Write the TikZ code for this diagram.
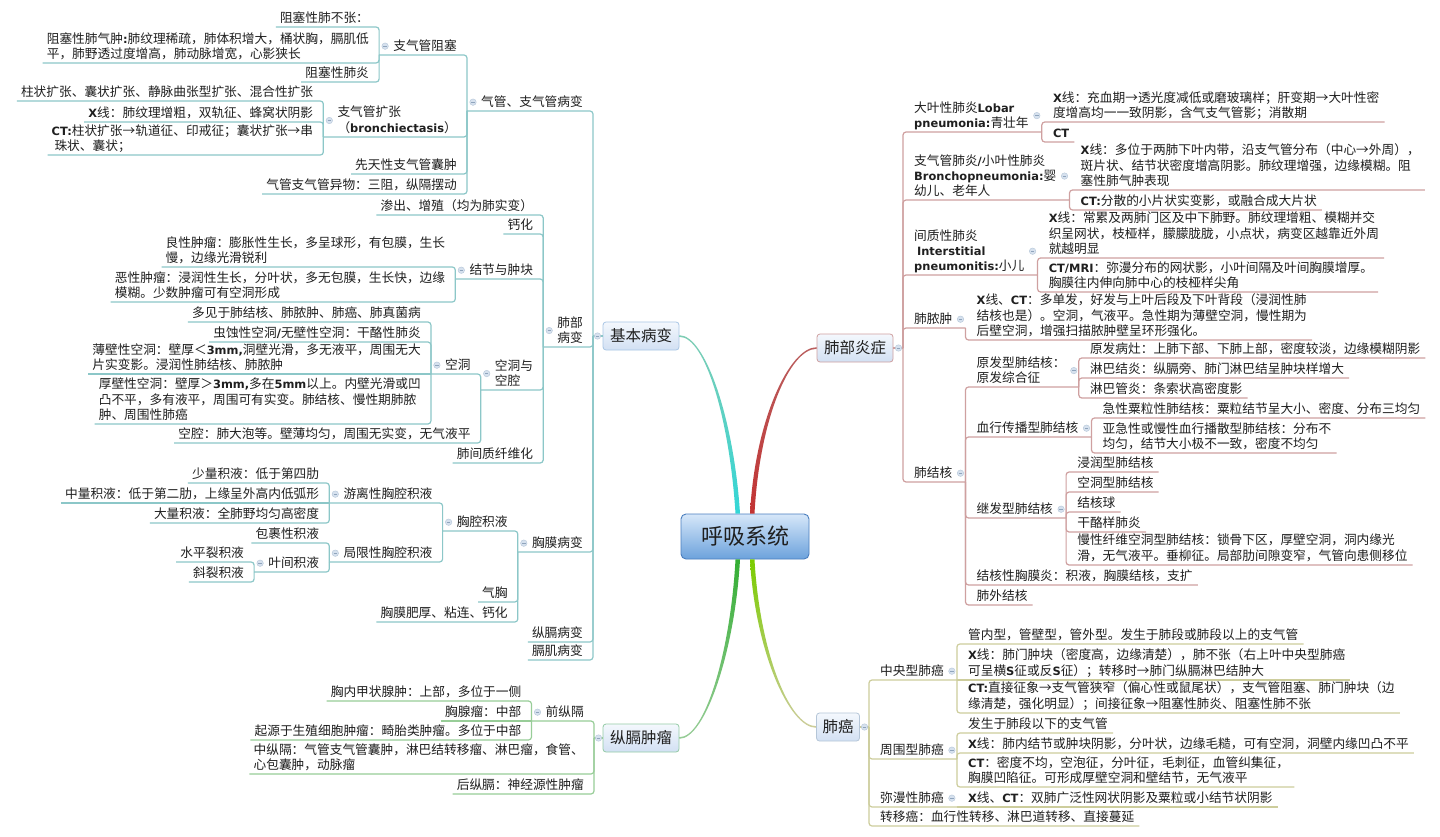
\documentclass[tikz,border=0pt]{standalone}
\usepackage{fontspec}
\newfontfamily\cjk{Noto Sans CJK SC}
\newfontfamily\latb[Scale=0.9]{DejaVu Sans}
\newcommand\Bf[1]{{\latb\bfseries #1}}
\newcommand\leafL[1]{\begin{tabular}{@{\hspace{4pt}}l@{\hspace{10pt}}}#1\end{tabular}}
\newcommand\parL[1]{\begin{tabular}{@{\hspace{14pt}}l@{\hspace{10pt}}}#1\end{tabular}}
\newcommand\leafR[1]{\begin{tabular}{@{\hspace{11pt}}l@{\hspace{5pt}}}#1\end{tabular}}
\newcommand\parR[1]{\begin{tabular}{@{\hspace{11pt}}l@{\hspace{13pt}}}#1\end{tabular}}
\newcommand\cnL[3]{\draw[#3] (#1.south west) -- (#1.south east) -- (#2.south west);}
\newcommand\cnR[3]{\draw[#3] (#1.south east) -- (#1.south west) -- (#2.south east);}
\newcommand\cnLr[3]{\draw[#3] (#1.south west) -- (#1.south east) -- (#1.south east |- #2);}
\newcommand\cnRr[3]{\draw[#3] (#1.south east) -- (#1.south west) -- (#1.south west |- #2);}
\newcommand\cnS[2]{\draw[#2] (#1.south west) -- (#1.south east);}
\newcommand\kL[1]{\node[knob] (#1k) at ([xshift=6pt,yshift=1pt]#1.west) {};}
\newcommand\kR[1]{\node[knob] (#1k) at ([xshift=-5pt,yshift=1pt]#1.east) {};}
\definecolor{cT}{HTML}{8CC7C8}
\definecolor{cR}{HTML}{CFA0A0}
\definecolor{cG}{HTML}{98CD98}
\definecolor{cY}{HTML}{CDCD9C}
\definecolor{knobF}{HTML}{D6E1EE}
\definecolor{knobD}{HTML}{B5C6D8}
\definecolor{knobM}{HTML}{8FA4BC}
\definecolor{topT}{HTML}{F4F8FD}
\definecolor{topB}{HTML}{D2E0F3}
\definecolor{cenT}{HTML}{D6E7F9}
\definecolor{cenB}{HTML}{6CA2DC}
\definecolor{cenD}{HTML}{4A7EBE}
\tikzset{
  every node/.style={font=\cjk\fontsize{12.7}{15}\selectfont, inner sep=0pt, text=black!88},
  ltx/.style={anchor=south east},
  rtx/.style={anchor=south west},
  lnT/.style={draw=cT, line width=1.2pt, rounded corners=3pt},
  lnR/.style={draw=cR, line width=1.2pt, rounded corners=3pt},
  lnG/.style={draw=cG, line width=1.2pt, rounded corners=3pt},
  lnY/.style={draw=cY, line width=1.2pt, rounded corners=3pt},
  knob/.style={circle, draw=knobD, fill=knobF, line width=0.4pt, minimum size=6.5pt, inner sep=0pt,
    path picture={\draw[knobM, line width=0.7pt] ([xshift=-1.7pt]path picture bounding box.center) -- ([xshift=1.7pt]path picture bounding box.center);}},
  topic/.style={rounded corners=3pt, top color=topT, bottom color=topB, line width=0.8pt,
    minimum height=28pt, inner xsep=6pt, font=\cjk\fontsize{15.5}{18}\selectfont},
  central/.style={rounded corners=5pt, top color=cenT, bottom color=cenB, draw=cenD, line width=0.9pt,
    minimum width=128pt, minimum height=45pt, font=\cjk\fontsize{22}{26}\selectfont}
}
\begin{document}
\begin{tikzpicture}[x=1pt,y=-1pt]
\fill[white] (0,0) rectangle (1440,837);
\useasboundingbox (0,0) rectangle (1440,837);

% ---------- central and main topics ----------
\node[central] (C) at (745,536.5) {呼吸系统};
\node[topic, draw=cT!80!blue!60, minimum width=76pt] (B1) at (641,336) {基本病变};
\node[topic, draw=cR, minimum width=76pt] (B2) at (855,348) {肺部炎症};
\node[topic, draw=cG!70!cT, minimum width=76pt] (B3) at (641,738) {纵膈肿瘤};
\node[topic, draw=knobD, minimum width=42pt] (B4) at (838,727) {肺癌};

\shade[top color=cT!90!green, bottom color=cyan!60!teal!80] ([yshift=0.8pt]B1.east) .. controls +(26,0) and +(-6,-94) .. ([xshift=-5pt]C.north) -- ([xshift=-9.5pt]C.north) .. controls +(-6,-94) and +(26,0) .. ([yshift=-0.8pt]B1.east) -- cycle;
\shade[top color=red!40!gray!90, bottom color=red!70!black!80] ([yshift=0.8pt]B2.west) .. controls +(-27,0) and +(5,-94) .. ([xshift=5pt]C.north) -- ([xshift=9.5pt]C.north) .. controls +(5,-94) and +(-27,0) .. ([yshift=-0.8pt]B2.west) -- cycle;
\shade[top color=green!60!black!80, bottom color=cG] ([yshift=-0.8pt]B3.east) .. controls +(26,0) and +(-5,91) .. ([xshift=-5pt]C.south) -- ([xshift=-9.5pt]C.south) .. controls +(-5,91) and +(26,0) .. ([yshift=0.8pt]B3.east) -- cycle;
\shade[top color=yellow!60!green!80!black, bottom color=cY] ([yshift=-0.8pt]B4.west) .. controls +(-27,0) and +(5,91) .. ([xshift=5pt]C.south) -- ([xshift=9.5pt]C.south) .. controls +(5,91) and +(-27,0) .. ([yshift=0.8pt]B4.west) -- cycle;

% ---------- 基本病变 (left) ----------
\coordinate (jB1) at (593,336);
\node[ltx] (a1) at (593,111) {\parL{气管、支气管病变}};
\node[ltx] (a2) at (593,347) {\parL{肺部\\病变}};
\node[ltx] (a3) at (593,552) {\parL{胸膜病变}};
\node[ltx] (a4) at (593,642) {\leafL{纵膈病变}};
\node[ltx] (a5) at (593,660) {\leafL{膈肌病变}};

\node[ltx] (b1) at (a1.south west |- 0,55) {\parL{支气管阻塞}};
\node[ltx] (b2) at (a1.south west |- 0,137) {\parL{支气管扩张\\（\Bf{bronchiectasis}）}};
\node[ltx] (b3) at (a1.south west |- 0,174) {\leafL{先天性支气管囊肿}};
\node[ltx] (b4) at (a1.south west |- 0,194) {\leafL{气管支气管异物：三阻，纵隔摆动}};

\node[ltx] (c1) at (b1.south west |- 0,27) {\leafL{阻塞性肺不张：}};
\node[ltx] (c2) at (b1.south west |- 0,63) {\leafL{阻塞性肺气肿\Bf{:}肺纹理稀疏，肺体积增大，桶状胸，膈肌低\\平，肺野透过度增高，肺动脉增宽，心影狭长}};
\node[ltx] (c3) at (b1.south west |- 0,82) {\leafL{阻塞性肺炎}};
\node[ltx] (c4) at (b2.south west |- 0,101) {\leafL{柱状扩张、囊状扩张、静脉曲张型扩张、混合性扩张}};
\node[ltx] (c5) at (b2.south west |- 0,122) {\leafL{\Bf{X}线：肺纹理增粗，双轨征、蜂窝状阴影}};
\node[ltx] (c6) at (b2.south west |- 0,155) {\leafL{\Bf{CT:}柱状扩张→轨道征、印戒征；囊状扩张→串\\\ 珠状、囊状；}};

\node[ltx] (d1) at (a2.south west |- 0,215) {\leafL{渗出、增殖（均为肺实变）}};
\node[ltx] (d2) at (a2.south west |- 0,234) {\leafL{钙化}};
\node[ltx] (d3) at (a2.south west |- 0,279) {\parL{结节与肿块}};
\node[ltx] (d4) at (a2.south west |- 0,390) {\parL{空洞与\\空腔}};
\node[ltx] (d5) at (a2.south west |- 0,463) {\leafL{肺间质纤维化}};

\node[ltx] (e1) at (d3.south west |- 0,267) {\leafL{良性肿瘤：膨胀性生长，多呈球形，有包膜，生长\\慢，边缘光滑锐利}};
\node[ltx] (e2) at (d3.south west |- 0,302) {\leafL{恶性肿瘤：浸润性生长，分叶状，多无包膜，生长快，边缘\\模糊。少数肿瘤可有空洞形成}};
\node[ltx] (e3) at (d4.south west |- 0,374) {\parL{空洞}};
\node[ltx] (e4) at (d4.south west |- 0,443) {\leafL{空腔：肺大泡等。壁薄均匀，周围无实变，无气液平}};

\node[ltx] (f1) at (e3.south west |- 0,322) {\leafL{多见于肺结核、肺脓肿、肺癌、肺真菌病}};
\node[ltx] (f2) at (e3.south west |- 0,342) {\leafL{虫蚀性空洞\Bf{/}无壁性空洞：干酪性肺炎}};
\node[ltx] (f3) at (e3.south west |- 0,374) {\leafL{薄壁性空洞：壁厚＜\Bf{3mm,}洞壁光滑，多无液平，周围无大\\片实变影。浸润性肺结核、肺脓肿}};
\node[ltx] (f4) at (e3.south west |- 0,424) {\leafL{厚壁性空洞：壁厚＞\Bf{3mm,}多在\Bf{5mm}以上。内壁光滑或凹\\凸不平，多有液平，周围可有实变。肺结核、慢性期肺脓\\肿、周围性肺癌}};

\node[ltx] (g1) at (a3.south west |- 0,531) {\parL{胸腔积液}};
\node[ltx] (g2) at (a3.south west |- 0,602) {\leafL{气胸}};
\node[ltx] (g3) at (a3.south west |- 0,622) {\leafL{胸膜肥厚、粘连、钙化}};
\node[ltx] (h1) at (g1.south west |- 0,503) {\parL{游离性胸腔积液}};
\node[ltx] (h2) at (g1.south west |- 0,562) {\parL{局限性胸腔积液}};
\node[ltx] (i1) at (h1.south west |- 0,483) {\leafL{少量积液：低于第四肋}};
\node[ltx] (i2) at (h1.south west |- 0,503) {\leafL{中量积液：低于第二肋，上缘呈外高内低弧形}};
\node[ltx] (i3) at (h1.south west |- 0,523) {\leafL{大量积液：全肺野均匀高密度}};
\node[ltx] (i4) at (h2.south west |- 0,543) {\leafL{包裹性积液}};
\node[ltx] (i5) at (h2.south west |- 0,572) {\parL{叶间积液}};
\node[ltx] (j1) at (i5.south west |- 0,562) {\leafL{水平裂积液}};
\node[ltx] (j2) at (i5.south west |- 0,582) {\leafL{斜裂积液}};

\foreach \n in {a1,a2,a3,a4,a5} {\cnLr{\n}{jB1}{lnT}}
\draw[lnT] (jB1) -- (B1.west);
\foreach \n in {b1,b2,b3,b4} {\cnL{\n}{a1}{lnT}}
\foreach \n in {c1,c2,c3} {\cnL{\n}{b1}{lnT}}
\foreach \n in {c4,c5,c6} {\cnL{\n}{b2}{lnT}}
\foreach \n in {d1,d2,d3,d4,d5} {\cnL{\n}{a2}{lnT}}
\foreach \n in {e1,e2} {\cnL{\n}{d3}{lnT}}
\foreach \n in {e3,e4} {\cnL{\n}{d4}{lnT}}
\foreach \n in {f1,f2,f4} {\cnL{\n}{e3}{lnT}}
\cnS{f3}{lnT}
\foreach \n in {g1,g2,g3} {\cnL{\n}{a3}{lnT}}
\foreach \n in {h1,h2} {\cnL{\n}{g1}{lnT}}
\foreach \n in {i1,i3} {\cnL{\n}{h1}{lnT}}
\cnS{i2}{lnT}
\foreach \n in {i4,i5} {\cnL{\n}{h2}{lnT}}
\foreach \n in {j1,j2} {\cnL{\n}{i5}{lnT}}

% ---------- 纵膈肿瘤 (left) ----------
\coordinate (jB3) at (594,738);
\node[ltx] (k1) at (594,721) {\parL{前纵隔}};
\node[ltx] (k2) at (594,774) {\leafL{中纵隔：气管支气管囊肿，淋巴结转移瘤、淋巴瘤，食管、\\心包囊肿，动脉瘤}};
\node[ltx] (k3) at (594,794) {\leafL{后纵膈：神经源性肿瘤}};
\node[ltx] (l1) at (k1.south west |- 0,701) {\leafL{胸内甲状腺肿：上部，多位于一侧}};
\node[ltx] (l2) at (k1.south west |- 0,721) {\leafL{胸腺瘤：中部}};
\node[ltx] (l3) at (k1.south west |- 0,740) {\leafL{起源于生殖细胞肿瘤：畸胎类肿瘤。多位于中部}};
\foreach \n in {k1,k2,k3} {\cnLr{\n}{jB3}{lnG}}
\draw[lnG] (jB3) -- (B3.west);
\foreach \n in {l1,l3} {\cnL{\n}{k1}{lnG}}
\cnS{l2}{lnG}

% ---------- 肺部炎症 (right) ----------
\coordinate (jB2) at (903,348);
\node[rtx] (m1) at (903,132) {\parR{大叶性肺炎\Bf{Lobar}\\\Bf{pneumonia:}青壮年}};
\node[rtx] (m2) at (903,200) {\parR{支气管肺炎\Bf{/}小叶性肺炎\\\Bf{Bronchopneumonia:}婴\\幼儿、老年人}};
\node[rtx] (m3) at (903,275) {\parR{间质性肺炎\\\ \Bf{Interstitial}\\\Bf{pneumonitis:}小儿}};
\node[rtx] (m4) at (903,328) {\parR{肺脓肿}};
\node[rtx] (m5) at (903,482) {\parR{肺结核}};

\node[rtx] (n1) at (m1.south east |- 0,122) {\leafR{\Bf{X}线：充血期→透光度减低或磨玻璃样；肝变期→大叶性密\\度增高均一一致阴影，含气支气管影；消散期}};
\node[rtx] (n2) at (m1.south east |- 0,142) {\leafR{\Bf{CT}}};
\node[rtx] (n3) at (m2.south east |- 0,190) {\leafR{\Bf{X}线：多位于两肺下叶内带，沿支气管分布（中心→外周），\\斑片状、结节状密度增高阴影。肺纹理增强，边缘模糊。阻\\塞性肺气肿表现}};
\node[rtx] (n4) at (m2.south east |- 0,210) {\leafR{\Bf{CT:}分散的小片状实变影，或融合成大片状}};
\node[rtx] (n5) at (m3.south east |- 0,258) {\leafR{\Bf{X}线：常累及两肺门区及中下肺野。肺纹理增粗、模糊并交\\织呈网状，枝桠样，朦朦胧胧，小点状，病变区越靠近外周\\就越明显}};
\node[rtx] (n6) at (m3.south east |- 0,292) {\leafR{\Bf{CT/MRI}：弥漫分布的网状影，小叶间隔及叶间胸膜增厚。\\胸膜往内伸向肺中心的枝桠样尖角}};
\node[rtx] (n7) at (m4.south east |- 0,340) {\leafR{\Bf{X}线、\Bf{CT}：多单发，好发与上叶后段及下叶背段（浸润性肺\\结核也是）。空洞，气液平。急性期为薄壁空洞，慢性期为\\后壁空洞，增强扫描脓肿壁呈环形强化。}};

\node[rtx] (o1) at (m5.south east |- 0,387) {\parR{原发型肺结核：\\原发综合征}};
\node[rtx] (o2) at (m5.south east |- 0,437) {\parR{血行传播型肺结核}};
\node[rtx] (o3) at (m5.south east |- 0,518) {\parR{继发型肺结核}};
\node[rtx] (o4) at (m5.south east |- 0,585) {\leafR{结核性胸膜炎：积液，胸膜结核，支扩}};
\node[rtx] (o5) at (m5.south east |- 0,605) {\leafR{肺外结核}};
\node[rtx] (p1) at (o1.south east |- 0,358) {\leafR{原发病灶：上肺下部、下肺上部，密度较淡，边缘模糊阴影}};
\node[rtx] (p2) at (o1.south east |- 0,378) {\leafR{淋巴结炎：纵膈旁、肺门淋巴结呈肿块样增大}};
\node[rtx] (p3) at (o1.south east |- 0,398) {\leafR{淋巴管炎：条索状高密度影}};
\node[rtx] (p4) at (o2.south east |- 0,418) {\leafR{急性粟粒性肺结核：粟粒结节呈大小、密度、分布三均匀}};
\node[rtx] (p5) at (o2.south east |- 0,453) {\leafR{亚急性或慢性血行播散型肺结核：分布不\\均匀，结节大小极不一致，密度不均匀}};
\node[rtx] (p6) at (o3.south east |- 0,472) {\leafR{浸润型肺结核}};
\node[rtx] (p7) at (o3.south east |- 0,492) {\leafR{空洞型肺结核}};
\node[rtx] (p8) at (o3.south east |- 0,512) {\leafR{结核球}};
\node[rtx] (p9) at (o3.south east |- 0,532) {\leafR{干酪样肺炎}};
\node[rtx] (p10) at (o3.south east |- 0,565) {\leafR{慢性纤维空洞型肺结核：锁骨下区，厚壁空洞，洞内缘光\\滑，无气液平。垂柳征。局部肋间隙变窄，气管向患侧移位}};

\foreach \n in {m1,m2,m3,m4,m5} {\cnRr{\n}{jB2}{lnR}}
\draw[lnR] (B2.east) -- (jB2);
\foreach \n in {n1,n2} {\cnR{\n}{m1}{lnR}}
\foreach \n in {n3,n4} {\cnR{\n}{m2}{lnR}}
\foreach \n in {n5,n6} {\cnR{\n}{m3}{lnR}}
\cnR{n7}{m4}{lnR}
\foreach \n in {o1,o2,o3,o4,o5} {\cnR{\n}{m5}{lnR}}
\foreach \n in {p1,p2,p3} {\cnR{\n}{o1}{lnR}}
\foreach \n in {p4,p5} {\cnR{\n}{o2}{lnR}}
\foreach \n in {p6,p7,p8,p9,p10} {\cnR{\n}{o3}{lnR}}

% ---------- 肺癌 (right) ----------
\coordinate (jB4) at (869,727);
\node[rtx] (q1) at (869,680) {\parR{中央型肺癌}};
\node[rtx] (q2) at (869,759) {\parR{周围型肺癌}};
\node[rtx] (q3) at (869,807) {\parR{弥漫性肺癌}};
\node[rtx] (q4) at (869,826) {\leafR{转移癌：血行性转移、淋巴道转移、直接蔓延}};
\node[rtx] (r1) at (q1.south east |- 0,644) {\leafR{管内型，管壁型，管外型。发生于肺段或肺段以上的支气管}};
\node[rtx] (r2) at (q1.south east |- 0,680) {\leafR{\Bf{X}线：肺门肿块（密度高，边缘清楚），肺不张（右上叶中央型肺癌\\可呈横\Bf{S}征或反\Bf{S}征）；转移时→肺门纵膈淋巴结肿大}};
\node[rtx] (r3) at (q1.south east |- 0,713) {\leafR{\Bf{CT:}直接征象→支气管狭窄（偏心性或鼠尾状），支气管阻塞、肺门肿块（边\\缘清楚，强化明显）；间接征象→阻塞性肺炎、阻塞性肺不张}};
\node[rtx] (r4) at (q2.south east |- 0,733) {\leafR{发生于肺段以下的支气管}};
\node[rtx] (r5) at (q2.south east |- 0,753) {\leafR{\Bf{X}线：肺内结节或肿块阴影，分叶状，边缘毛糙，可有空洞，洞壁内缘凹凸不平}};
\node[rtx] (r6) at (q2.south east |- 0,787) {\leafR{\Bf{CT}：密度不均，空泡征，分叶征，毛刺征，血管纠集征，\\胸膜凹陷征。可形成厚壁空洞和壁结节，无气液平}};
\node[rtx] (r7) at (q3.south east |- 0,807) {\leafR{\Bf{X}线、\Bf{CT}：双肺广泛性网状阴影及粟粒或小结节状阴影}};

\foreach \n in {q1,q2,q3,q4} {\cnRr{\n}{jB4}{lnY}}
\draw[lnY] (B4.east) -- (jB4);
\foreach \n in {r1,r3} {\cnR{\n}{q1}{lnY}}
\cnS{r2}{lnY}
\foreach \n in {r4,r5,r6} {\cnR{\n}{q2}{lnY}}
\cnS{r7}{lnY}

% ---------- collapse knobs ----------
\node[knob] (kB1) at ([xshift=4.5pt]jB1) {};
\node[knob] (kB2) at ([xshift=-4.5pt]jB2) {};
\node[knob] (kB3) at ([xshift=4.5pt]jB3) {};
\node[knob] (kB4) at ([xshift=-4.5pt]jB4) {};
\foreach \n in {a1,a2,a3,b1,b2,d3,d4,e3,g1,h1,h2,i5,k1} {\kL{\n}}
\foreach \n in {m1,m2,m3,m4,m5,o1,o2,o3,q1,q2,q3} {\kR{\n}}
\end{tikzpicture}
\end{document}
